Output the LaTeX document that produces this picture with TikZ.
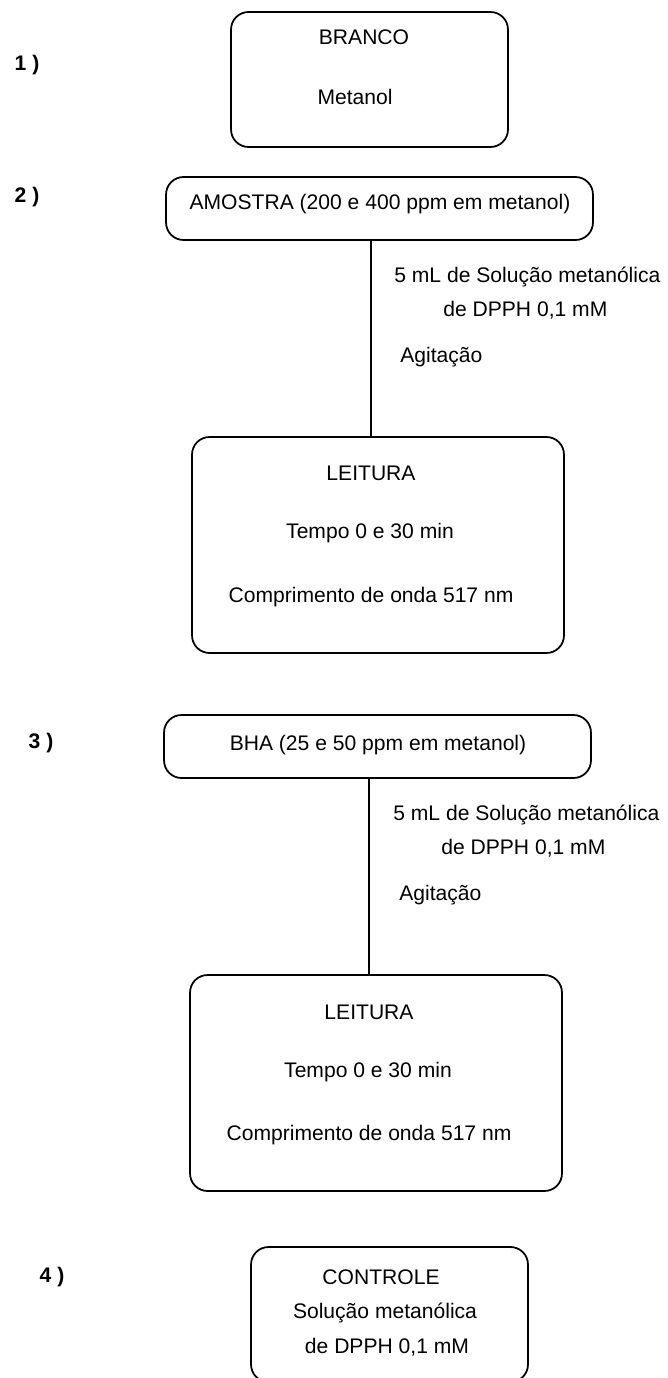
\documentclass[tikz,border=0pt]{standalone}
\usepackage{fontspec}
\setmainfont{Liberation Sans}

\begin{document}
\begin{tikzpicture}[x=0.02cm, y=-0.02cm,
        caixa/.style={draw, rounded corners=0.35cm, line width=1pt, inner sep=0pt},
        texto/.style={font=\fontsize{12}{14}\selectfont, inner sep=0pt},
        passo/.style={font=\bfseries\fontsize{12}{14}\selectfont, inner sep=0pt}]

            \useasboundingbox (0,0) rectangle (668,1378);

            \node[passo] (p1) at (27,65) {1 )};
            \node[caixa, minimum width=5.54cm, minimum height=2.7cm] (branco) at (369.5,79.5) {};
            \node[texto] (brancotit) at (364,37) {BRANCO};
            \node[texto] (metanol) at (355,97) {Metanol};

            \node[passo] (p2) at (27,197) {2 )};
            \node[caixa, minimum width=8.54cm, minimum height=1.26cm] (amostra) at (379.5,208.5) {};
            \node[texto] (amostratxt) at (380,204) {AMOSTRA (200 e 400 ppm em metanol)};

            \node[texto, anchor=west] (sol1) at (394,277) {5 mL de Solução metanólica};
            \node[texto, anchor=west] (dpph1) at (443,310) {de DPPH 0,1 mM};
            \node[texto, anchor=west] (agit1) at (400,357) {Agitação};

            \node[caixa, minimum width=7.44cm, minimum height=4.32cm] (leitura1) at (378,545) {};
            \node[texto] (leit1) at (371,473) {LEITURA};
            \node[texto] (tempo1) at (370,533) {Tempo 0 e 30 min};
            \node[texto] (onda1) at (371,597) {Comprimento de onda 517 nm};

            \draw[line width=1pt] (amostra.south -| leit1) -- (leitura1.north -| leit1);

            \node[passo] (p3) at (41,743) {3 )};
            \node[caixa, minimum width=8.54cm, minimum height=1.26cm] (bha) at (377.5,746.5) {};
            \node[texto] (bhatxt) at (378,745) {BHA (25 e 50 ppm em metanol)};

            \node[texto, anchor=west] (sol2) at (393,815) {5 mL de Solução metanólica};
            \node[texto, anchor=west] (dpph2) at (441,848) {de DPPH 0,1 mM};
            \node[texto, anchor=west] (agit2) at (399,895) {Agitação};

            \node[caixa, minimum width=7.44cm, minimum height=4.32cm] (leitura2) at (376,1083) {};
            \node[texto] (leit2) at (369,1012) {LEITURA};
            \node[texto] (tempo2) at (368,1072) {Tempo 0 e 30 min};
            \node[texto] (onda2) at (369,1135) {Comprimento de onda 517 nm};

            \draw[line width=1pt] (bha.south -| leit2) -- (leitura2.north -| leit2);

            \node[passo] (p4) at (52,1277) {4 )};
            \node[caixa, minimum width=5.54cm, minimum height=2.7cm] (controle) at (389.5,1314.5) {};
            \node[texto] (controletit) at (381,1277) {CONTROLE};
            \node[texto] (sol3) at (385,1313) {Solução metanólica};
            \node[texto] (dpph3) at (387,1347) {de DPPH 0,1 mM};

        \end{tikzpicture}
\end{document}
